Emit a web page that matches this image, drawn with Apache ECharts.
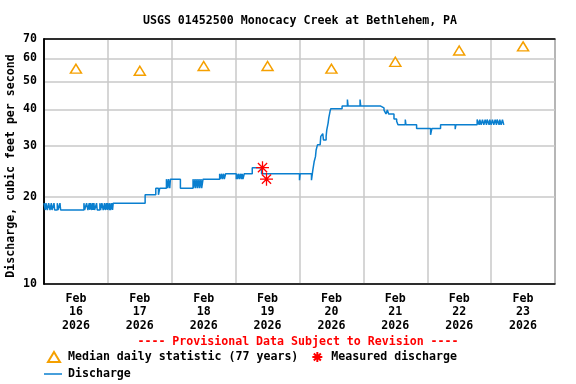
<!DOCTYPE html>
<html><head><meta charset="utf-8">
<script src="https://cdn.jsdelivr.net/npm/echarts@6/dist/echarts.min.js"></script>
<style>html,body{margin:0;padding:0;background:#fff}#c{width:576px;height:384px}</style>
</head><body><div id="c"></div>
<script>
const FONT = '"DejaVu Sans Mono", "Liberation Mono", monospace';
const titleText = 'USGS 01452500 Monocacy Creek at Bethlehem, PA';
const yAxisTitle = 'Discharge, cubic feet per second';
const provisionalText = '---- Provisional Data Subject to Revision ----';

// x axis: hours since Feb 16 2026 00:00
const xLabelHours = [12, 36, 60, 84, 108, 132, 156, 180];
const dateLabels = ['Feb\n16\n2026', 'Feb\n17\n2026', 'Feb\n18\n2026', 'Feb\n19\n2026',
                    'Feb\n20\n2026', 'Feb\n21\n2026', 'Feb\n22\n2026', 'Feb\n23\n2026'];
const yTicks = [10, 20, 30, 40, 50, 60, 70];

const medianHours = [12, 36, 60, 84, 108, 132, 156, 180];
const medianCfs = [55.3, 54.4, 56.5, 56.5, 55.3, 58.4, 63.9, 66.0];

const measuredHours = [82.1, 83.6];
const measuredCfs = [25.2, 23.0];

const dischargeHours = [
  0, 0.5, 0.75, 1.25, 1.75, 2.25, 2.75, 3.0, 3.75, 4.0, 5.0, 5.25, 6.0, 6.25,
  15.0, 15.25, 16.0, 16.5, 17.0, 17.25, 17.5, 18.0, 18.25, 18.5, 18.75, 19.0, 19.75, 20.0,
  21.0, 21.25, 21.75, 22.25, 22.75, 23.0, 23.5, 23.75, 24.0, 24.5, 24.75, 25.0, 25.5, 25.75, 26.0,
  38.0, 42.0, 43.0, 43.5, 46.0, 46.5, 46.75, 47.25, 47.5, 51.25,
  56.0, 56.25, 56.75, 57.0, 57.5, 57.75, 58.25, 58.5, 59.0, 59.25, 59.75,
  66.0, 66.25, 66.75, 67.0, 67.5, 67.75, 68.25,
  72.25, 72.5, 72.75, 73.25, 73.5, 74.0, 74.25, 74.5, 74.75, 75.25,
  78.25, 81.75, 96.0, 96.25, 100.5,
  101.0, 101.5, 102.0, 102.25, 102.75, 103.75, 104.0, 104.75, 105.0, 106.0, 106.25, 106.75,
  107.0, 107.5, 107.75, 112.0, 114.0, 114.25, 118.75, 119.0,
  126.5, 127.75, 128.5, 129.0, 129.5, 131.5, 132.5, 133.0, 135.75, 136.0, 140.0,
  145.25, 145.75, 149.0, 154.5, 154.75,
  162.75, 163.5, 163.75, 164.25, 164.75, 165.25, 165.75, 166.25, 166.5, 167.25, 167.5, 168.0,
  168.5, 169.0, 169.5, 170.0, 170.25, 171.0, 171.25, 171.75, 172.25, 172.75, 173.0
];
const dischargeCfs = [
  19, 18, 19, 18, 19, 18, 19, 18, 19, 18, 19, 18, 19, 18,
  19, 18, 19, 18, 19, 18, 19, 18, 19, 18, 19, 18, 19, 18,
  19, 18, 19, 18, 19, 18, 19, 18, 19, 18, 19, 18, 19, 18, 19,
  20.3, 21.4, 20.3, 21.4, 23, 21.4, 23, 21.4, 23, 21.4,
  23, 21.4, 23, 21.4, 23, 21.4, 23, 21.4, 23, 21.4, 23,
  24, 23, 24, 23, 24, 23, 24,
  23, 24, 23, 24, 23, 24, 23, 24, 23, 24,
  25.2, 24, 22.8, 24, 22.8,
  24.7, 26.4, 27.5, 29.0, 30.2, 30.6, 32.3, 33.0, 31.4, 32.3, 34.0, 35.9,
  37.4, 39.5, 40.2, 41.1, 43.3, 41.1, 43.3, 41.1,
  40.5, 39.8, 38.6, 39.8, 38.6, 37.1, 36.4, 35.4, 36.9, 35.4, 34.4,
  32.7, 34.4, 35.4, 34.2, 35.4,
  36.9, 35.4, 36.9, 35.4, 36.9, 35.4, 36.9, 35.4, 36.9, 35.4, 36.9, 35.4,
  36.9, 35.4, 36.9, 35.4, 36.9, 35.4, 36.9, 35.4, 36.9, 35.4, 35.4
];

const zip = (a, b) => a.map((v, i) => [v, b[i]]);
const txt = { fontFamily: FONT, fontWeight: 'bold', fontSize: 11.6, color: '#000' };
const gridLine = { show: true, lineStyle: { color: '#c8c8c8', width: 1.5 } };
const frameLine = { show: true, lineStyle: { color: '#000', width: 1.5 } };
const star = 'path://M6,0L6,12M0,6L12,6M1.76,1.76L10.24,10.24M10.24,1.76L1.76,10.24M4.6,6L6,4.6L7.4,6L6,7.4Z';

const chart = echarts.init(document.getElementById('c'), null, { renderer: 'canvas' });
chart.setOption({
  animation: false,
  backgroundColor: '#fff',
  grid: { left: 44, right: 21, top: 39, bottom: 100, show: true, borderColor: '#000', borderWidth: 1, backgroundColor: '#fff' },
  xAxis: [
    {
      type: 'value', min: 0, max: 192, interval: 24,
      axisLine: frameLine, axisTick: { show: false },
      splitLine: gridLine,
      axisLabel: Object.assign({}, txt, {
        customValues: xLabelHours,
        formatter: v => dateLabels[xLabelHours.indexOf(v)],
        margin: 8, lineHeight: 13.6
      })
    },
    {
      type: 'value', position: 'top', min: 0, max: 192, interval: 24,
      axisLine: frameLine, axisTick: { show: false }, axisLabel: { show: false }, splitLine: { show: false }
    }
  ],
  yAxis: [
    {
      type: 'log', logBase: 10, min: 10, max: 70,
      axisLine: frameLine,
      axisTick: { show: false, customValues: yTicks },
      splitLine: gridLine,
      axisLabel: Object.assign({}, txt, { customValues: yTicks, margin: 7 })
    },
    {
      type: 'log', logBase: 10, min: 10, max: 70, position: 'right',
      axisLine: frameLine, axisTick: { show: false }, axisLabel: { show: false }, splitLine: { show: false }
    }
  ],
  legend: [
    {
      data: ['Median daily statistic (77 years)', 'Measured discharge'],
      left: 42, top: 346, itemWidth: 12, itemHeight: 10, itemGap: 13,
      selectedMode: false,
      textStyle: Object.assign({}, txt, { padding: [0, 0, 0, 3] })
    },
    {
      data: [{ name: 'Discharge', icon: 'rect' }],
      left: 39, top: 363, itemWidth: 18, itemHeight: 1.5,
      selectedMode: false,
      textStyle: Object.assign({}, txt, { padding: [0, 0, 0, 1] })
    }
  ],
  graphic: [
    { type: 'text', x: 300, y: 21, style: { text: titleText, align: 'center', verticalAlign: 'middle', font: 'bold 11.6px ' + FONT, fill: '#000' } },
    { type: 'text', x: 11, y: 166, rotation: Math.PI / 2, style: { text: yAxisTitle, align: 'center', verticalAlign: 'middle', font: 'bold 11.6px ' + FONT, fill: '#000' } },
    { type: 'text', x: 298, y: 342, style: { text: provisionalText, align: 'center', verticalAlign: 'middle', font: 'bold 11.6px ' + FONT, fill: '#ff0000' } }
  ],
  series: [
    {
      name: 'Discharge', type: 'line', step: 'end', symbol: 'none',
      data: zip(dischargeHours, dischargeCfs),
      lineStyle: { color: '#0a7fcf', width: 1.5 }, itemStyle: { color: '#0a7fcf' }, z: 3
    },
    {
      name: 'Median daily statistic (77 years)', type: 'scatter', symbol: 'triangle', symbolSize: [11, 9],
      data: zip(medianHours, medianCfs),
      itemStyle: { color: '#fff', borderColor: '#f5a000', borderWidth: 1.5, opacity: 1 }, z: 4
    },
    {
      name: 'Measured discharge', type: 'scatter', symbol: star, symbolSize: 13,
      data: zip(measuredHours, measuredCfs),
      itemStyle: { color: '#ff0000', borderColor: '#ff0000', borderWidth: 1.3, opacity: 1 }, z: 5
    }
  ]
});
</script>
</body></html>
